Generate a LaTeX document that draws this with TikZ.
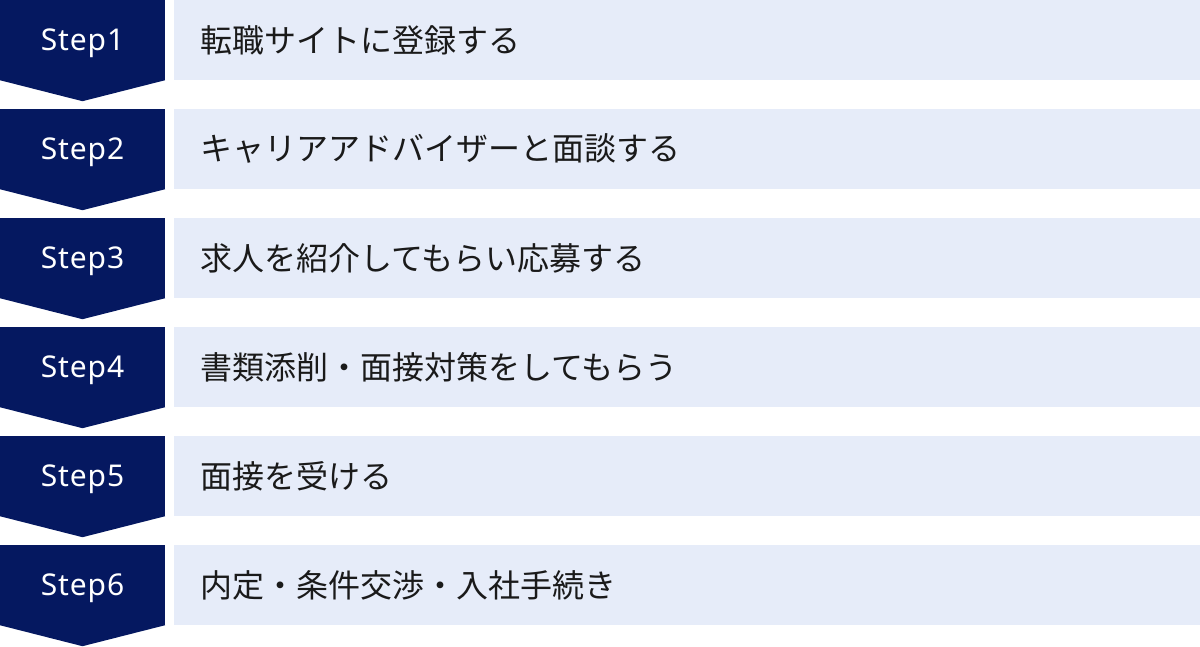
\documentclass[tikz,border=0pt]{standalone}
\usepackage{fontspec}
\setmainfont{Noto Sans}
\newfontfamily\jpfont{Noto Sans CJK JP}
\newfontfamily\steplabelfont[LetterSpace=3]{Noto Sans}
\usetikzlibrary{calc}
\usetikzlibrary{positioning}
\definecolor{stepnavy}{RGB}{5,24,96}
\definecolor{tasklight}{RGB}{230,236,249}
\definecolor{taskink}{RGB}{26,26,26}
\tikzset{
	stepbox/.style={
		rectangle,
		fill=stepnavy,
		minimum width=165pt,
		minimum height=80pt,
		inner sep=0pt,
		text depth=0pt,
		text=white,
		font=\steplabelfont\fontsize{30}{30}\selectfont,
	},
	steptip/.style={
		fill=stepnavy,
	},
	task/.style={
		rectangle,
		fill=tasklight,
		minimum height=80pt,
		inner xsep=26pt,
		inner ysep=0pt,
		text width=974pt,
		align=left,
		text=taskink,
		font=\jpfont\fontsize{32}{32}\selectfont,
	},
}

\begin{document}
\begin{tikzpicture}[x=1pt,y=-1pt]
		\useasboundingbox (0,0) rectangle (1200,647);

		\node[stepbox] (step1) at (82.5,40) {Step1};
		\fill[steptip] (step1.south west) -- (step1.south east) -- ($(step1.south)+(0,21)$) -- cycle;
		\node[task,right=9pt of step1] (task1) {転職サイトに登録する};

		\node[stepbox] (step2) at (82.5,149) {Step2};
		\fill[steptip] (step2.south west) -- (step2.south east) -- ($(step2.south)+(0,21)$) -- cycle;
		\node[task,right=9pt of step2] (task2) {キャリアアドバイザーと面談する};

		\node[stepbox] (step3) at (82.5,258) {Step3};
		\fill[steptip] (step3.south west) -- (step3.south east) -- ($(step3.south)+(0,21)$) -- cycle;
		\node[task,right=9pt of step3] (task3) {求人を紹介してもらい応募する};

		\node[stepbox] (step4) at (82.5,367) {Step4};
		\fill[steptip] (step4.south west) -- (step4.south east) -- ($(step4.south)+(0,21)$) -- cycle;
		\node[task,right=9pt of step4] (task4) {書類添削・面接対策をしてもらう};

		\node[stepbox] (step5) at (82.5,476) {Step5};
		\fill[steptip] (step5.south west) -- (step5.south east) -- ($(step5.south)+(0,21)$) -- cycle;
		\node[task,right=9pt of step5] (task5) {面接を受ける};

		\node[stepbox] (step6) at (82.5,585) {Step6};
		\fill[steptip] (step6.south west) -- (step6.south east) -- ($(step6.south)+(0,21)$) -- cycle;
		\node[task,right=9pt of step6] (task6) {内定・条件交渉・入社手続き};
%		\draw[thick,dashed] (task6.south west) -- (task6.south east);

	\end{tikzpicture}
\end{document}
